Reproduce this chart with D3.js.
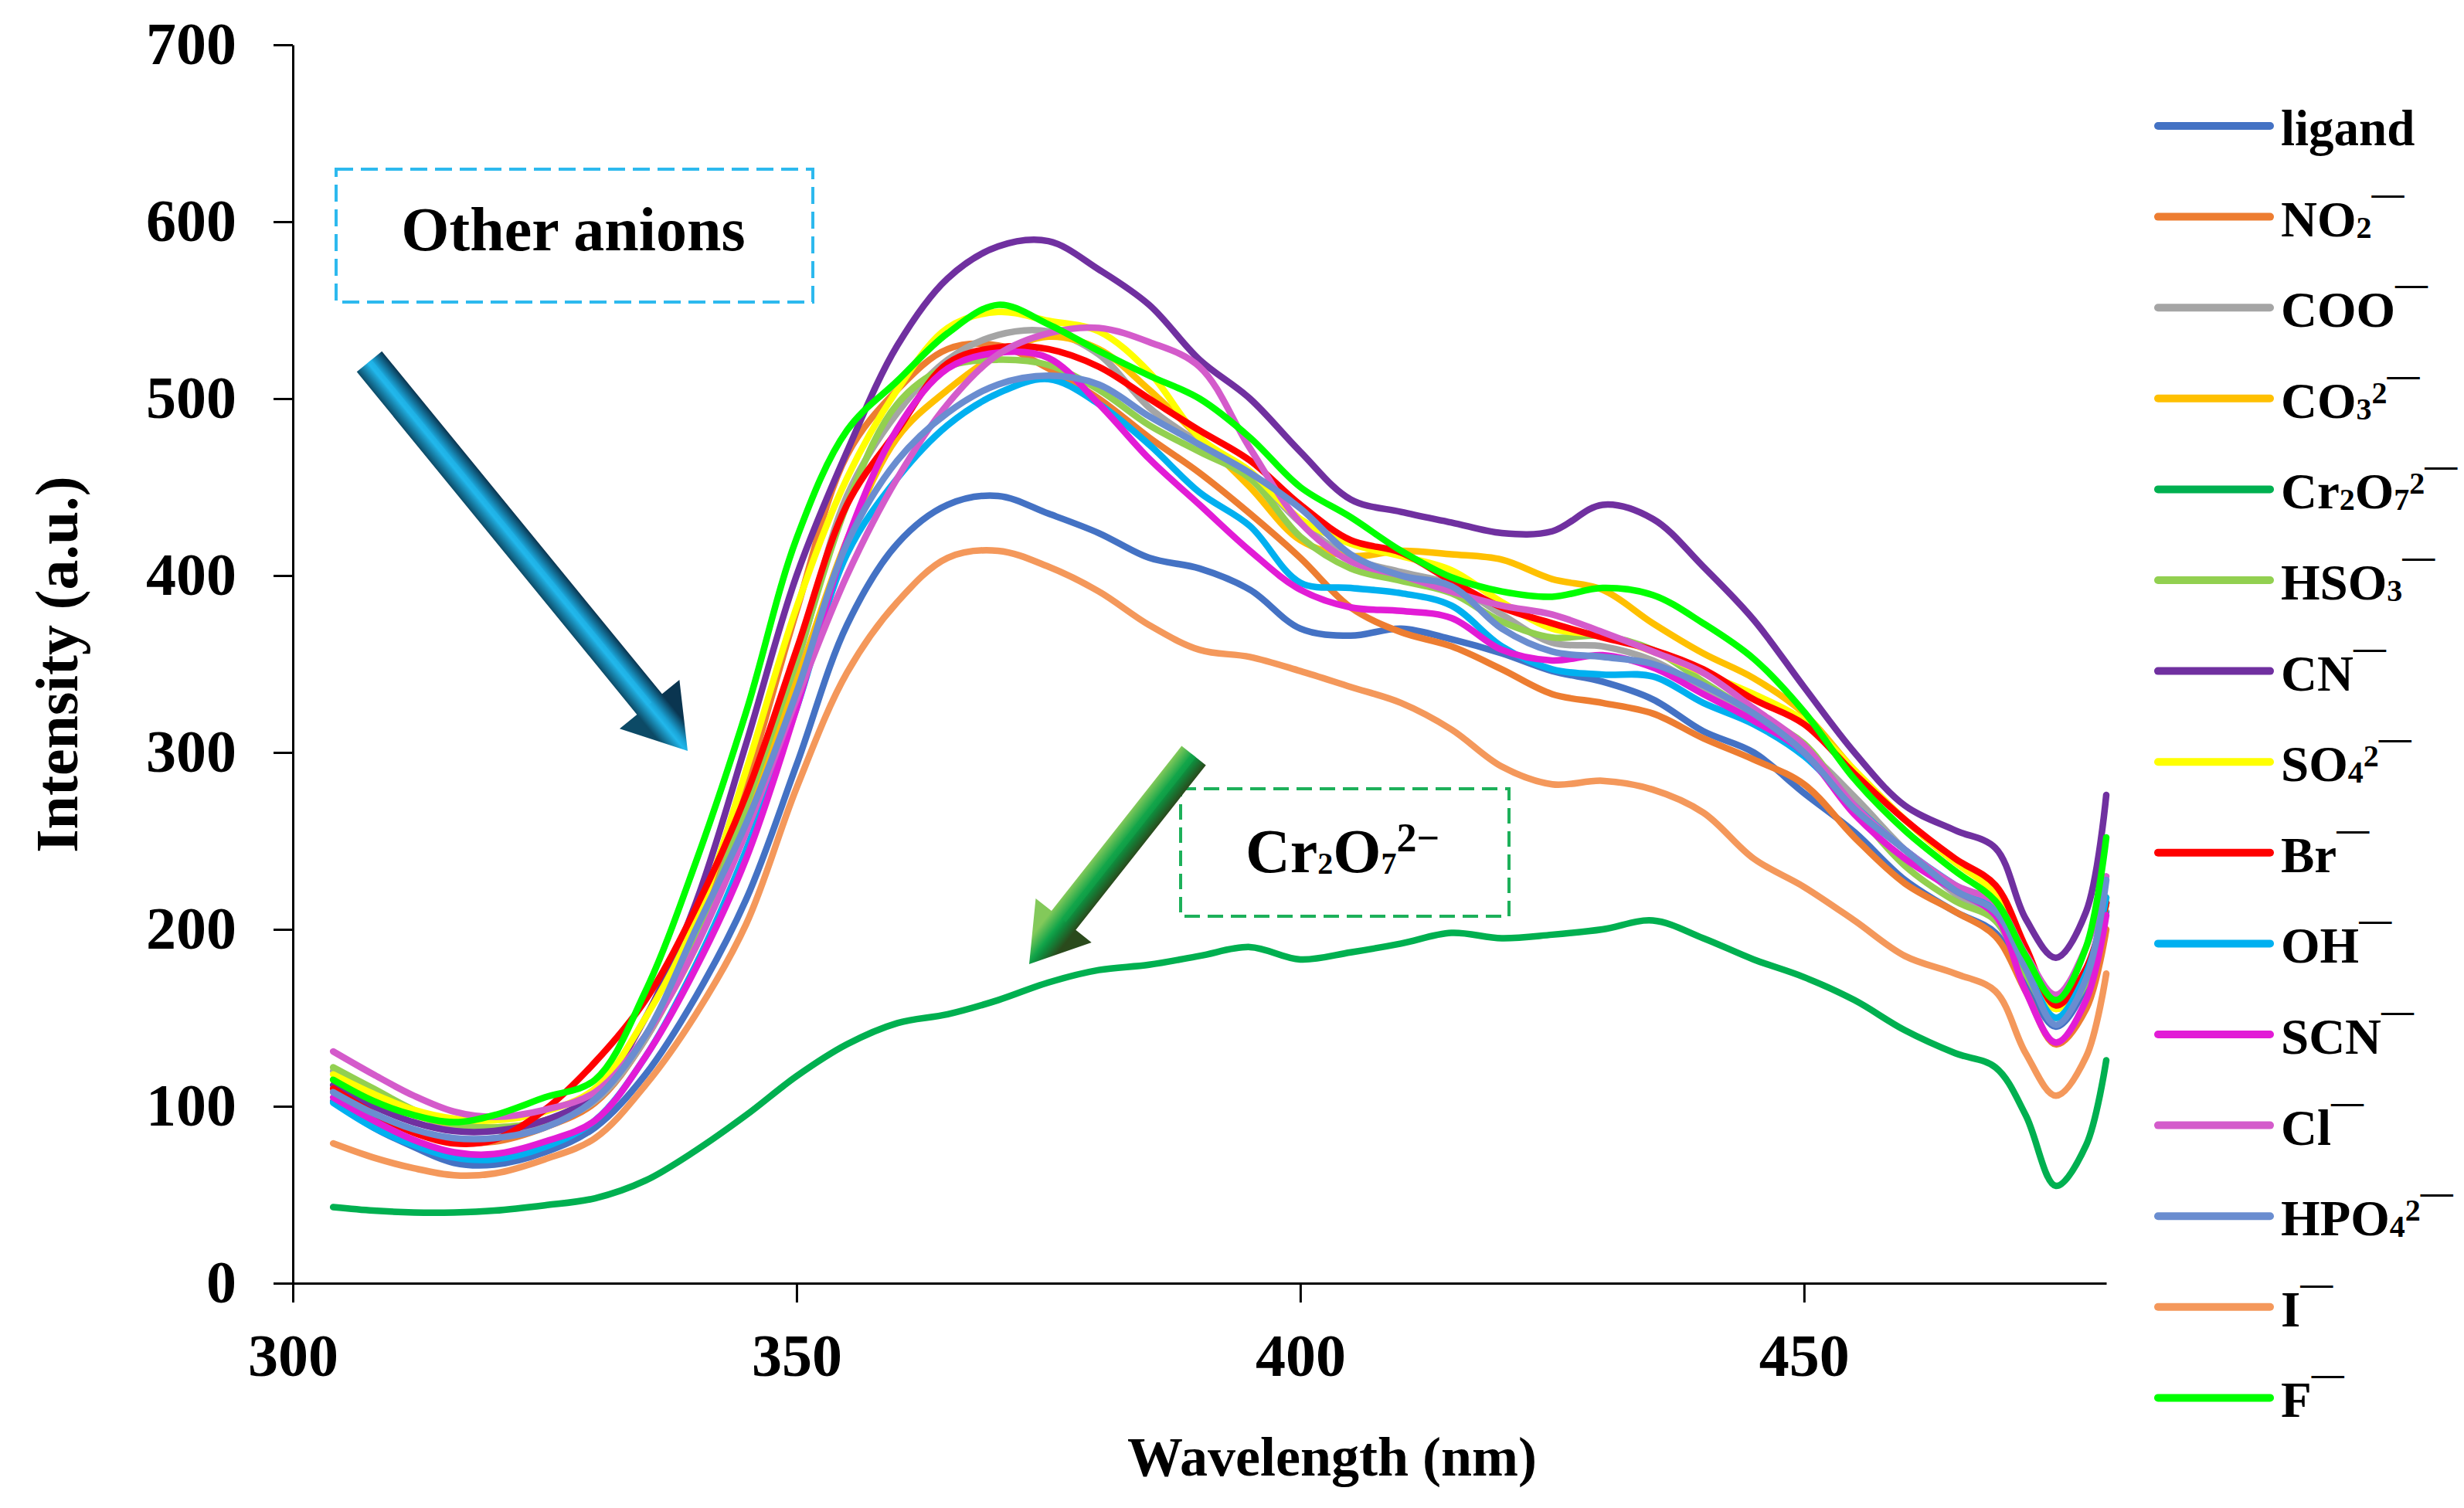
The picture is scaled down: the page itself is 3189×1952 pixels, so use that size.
<!DOCTYPE html>
<html><head><meta charset="utf-8">
<script src="https://cdn.jsdelivr.net/npm/d3@7"></script>
<style>
body{margin:0;background:#fff}
svg{display:block}
text{font-family:"Liberation Serif","Times New Roman",serif;font-weight:bold;fill:#000}
</style>
</head><body>
<svg id="chart" width="3189" height="1952"></svg>
<script>
// ---------- data ----------
const wavelengths=[304,308,312,316,320,325,330,335,340,345,350,355,360,365,370,375,380,385,390,395,400,405,410,415,420,425,430,435,440,445,450,455,460,465,469,472,475,478,480];
const ligand=[103,88,77,68,67,74,88,118,162,217,293,372,418,440,445,435,424,410,404,392,370,366,370,364,356,346,340,330,312,300,277,255,228,210,198,170,145,168,210];
const no2=[108,95,86,80,80,88,102,138,195,282,380,468,505,528,530,517,500,478,458,435,410,382,368,360,347,333,328,322,308,296,282,252,226,210,196,165,135,155,200];
const coo=[120,108,96,88,86,90,103,138,195,270,350,445,492,522,536,538,525,495,475,458,430,410,402,395,378,362,360,352,336,318,302,275,245,220,205,175,150,170,215];
const co3=[115,104,95,90,88,92,105,140,190,262,340,420,478,505,525,535,528,505,478,450,420,411,414,412,409,398,392,373,356,342,322,290,262,238,222,185,155,175,215];
const cr2o7=[43,41,40,40,41,44,48,58,75,95,117,135,147,152,160,170,177,180,185,190,183,187,192,198,195,197,200,205,195,183,173,160,143,130,122,95,55,78,126];
const hso3=[122,110,98,90,88,92,105,140,195,270,352,440,497,518,522,519,505,485,470,455,422,404,397,390,374,365,366,358,340,322,305,268,236,216,205,175,150,170,215];
const cn=[112,100,91,86,86,92,107,150,215,305,400,470,530,568,586,589,573,553,522,500,470,443,436,430,424,425,440,432,405,375,337,300,270,256,246,206,184,210,276];
const so4=[118,107,98,93,92,97,110,150,205,290,382,455,505,540,549,544,538,515,478,459,432,418,411,403,385,370,366,357,345,333,318,290,262,238,220,185,155,175,218];
const br=[110,96,85,79,81,98,125,160,212,276,358,440,482,520,529,528,518,500,482,465,440,420,413,397,382,373,365,358,347,330,316,288,262,240,225,190,157,178,215];
const oh=[102,88,78,71,70,77,92,128,180,245,325,412,455,485,503,511,497,474,447,428,396,393,390,383,360,347,344,343,328,316,298,270,245,225,212,178,150,175,218];
const scn=[105,92,81,74,73,80,92,128,178,240,325,420,483,517,526,523,497,466,440,414,392,382,380,376,358,352,355,348,333,318,300,265,240,222,208,165,136,160,208];
const cl=[131,118,106,97,94,98,108,140,190,255,330,400,455,497,525,537,540,532,518,472,430,408,400,391,383,378,368,357,345,325,304,270,245,225,215,186,163,190,230];
const hpo4=[108,96,87,82,82,88,104,140,200,260,334,418,465,492,508,513,508,490,474,458,438,412,400,394,370,357,354,350,338,322,300,268,245,222,210,178,146,172,228];
const iodide=[79,71,65,61,62,70,82,112,152,203,280,345,385,410,414,405,391,372,358,354,346,337,328,313,292,282,284,279,266,240,224,205,185,175,165,130,106,128,175];
const fluoride=[115,103,95,91,95,105,115,165,238,323,421,482,510,537,553,542,527,513,500,478,450,433,414,399,391,388,393,389,373,353,323,285,256,233,216,185,160,190,252];

const seriesValues=[ligand,no2,coo,co3,cr2o7,hso3,cn,so4,br,oh,scn,cl,hpo4,iodide,fluoride];
// label markup: {x}=subscript, [x]=superscript, ^=raised dash
const seriesLabels=["ligand","NO{2}^","COO^","CO{3}[2]^","Cr{2}O{7}[2]^","HSO{3}^","CN^","SO{4}[2]^","Br^","OH^","SCN^","Cl^","HPO{4}[2]^","I^","F^"];
const seriesColors=["#4472C4","#ED7D31","#A5A5A5","#FFC000","#00B050","#92D050","#7030A0","#FFFF00","#FF0000","#00B0F0","#E21CD6","#D45BCB","#6A8DD0","#F4985B","#00FF00"];
const yTicks=[0,100,200,300,400,500,600,700];
const xTicks=[300,350,400,450];
const xTitle="Wavelength (nm)";
const yTitle="Intensity (a.u.)";

// ---------- layout ----------
const svg=d3.select("#chart");
const plot={left:379,right:2726,top:58,bottom:1661};
const x=d3.scaleLinear().domain([300,480]).range([plot.left,plot.right]);
const y=d3.scaleLinear().domain([0,700]).range([plot.bottom,plot.top]);

svg.append("rect").attr("width",3189).attr("height",1952).attr("fill","#fff");

// parse label markup into parts
function parseLabel(s){
  const parts=[];let i=0,buf="";
  const flush=()=>{if(buf){parts.push({t:buf,k:"n"});buf="";}};
  while(i<s.length){
    const c=s[i];
    if(c==="{"){flush();const j=s.indexOf("}",i);parts.push({t:s.slice(i+1,j),k:"sub"});i=j+1;}
    else if(c==="["){flush();const j=s.indexOf("]",i);parts.push({t:s.slice(i+1,j),k:"sup"});i=j+1;}
    else if(c==="^"){flush();parts.push({t:"\u2014",k:"dash"});i++;}
    else{buf+=c;i++;}
  }
  flush();return parts;
}
function writeRich(textSel,parts,style){
  let cur=0;
  parts.forEach(p=>{
    const st=style[p.k];
    textSel.append("tspan").attr("font-size",st.size).attr("dy",st.off-cur).text(p.t);
    cur=st.off;
  });
}

// ---------- annotation boxes ----------
svg.append("rect").attr("x",435).attr("y",219).attr("width",617).attr("height",172)
  .attr("fill","none").attr("stroke","#2DB9EE").attr("stroke-width",4).attr("stroke-dasharray","22,10");
svg.append("text").attr("x",742).attr("y",324).attr("text-anchor","middle").attr("font-size",80).text("Other anions");

svg.append("rect").attr("x",1528).attr("y",1021).attr("width",425).attr("height",165)
  .attr("fill","none").attr("stroke","#1DB05A").attr("stroke-width",4).attr("stroke-dasharray","20,10");
const ann=svg.append("text").attr("x",1612).attr("y",1129).attr("font-size",80);
writeRich(ann,[{t:"Cr",k:"n"},{t:"2",k:"sub"},{t:"O",k:"n"},{t:"7",k:"sub"},{t:"2\u2212",k:"sup"}],
  {n:{size:80,off:0},sub:{size:40,off:2},sup:{size:52,off:-27}});

// ---------- arrows ----------
const defs=svg.append("defs");
function arrow(id,tail,tip,shaftW,headW,headL,stops){
  const dx=tip[0]-tail[0],dy=tip[1]-tail[1],L=Math.hypot(dx,dy);
  const ux=dx/L,uy=dy/L,nx=-uy,ny=ux;
  const bx=tip[0]-ux*headL,by=tip[1]-uy*headL;
  const pts=[
    [tail[0]+nx*shaftW/2,tail[1]+ny*shaftW/2],
    [bx+nx*shaftW/2,by+ny*shaftW/2],
    [bx+nx*headW/2,by+ny*headW/2],
    tip,
    [bx-nx*headW/2,by-ny*headW/2],
    [bx-nx*shaftW/2,by-ny*shaftW/2],
    [tail[0]-nx*shaftW/2,tail[1]-ny*shaftW/2]
  ];
  const g=defs.append("linearGradient").attr("id",id).attr("gradientUnits","userSpaceOnUse")
    .attr("x1",tail[0]+nx*shaftW/2).attr("y1",tail[1]+ny*shaftW/2)
    .attr("x2",tail[0]-nx*shaftW/2).attr("y2",tail[1]-ny*shaftW/2);
  stops.forEach(s=>g.append("stop").attr("offset",s[0]).attr("stop-color",s[1]));
  svg.append("polygon").attr("points",pts.map(p=>p.join(",")).join(" ")).attr("fill",`url(#${id})`);
  svg.append("line").attr("x1",tail[0]).attr("y1",tail[1]).attr("x2",bx).attr("y2",by)
    .attr("stroke",stops[1][1]).attr("stroke-width",shaftW*0.18).attr("opacity",0.6);
}
arrow("gBlue",[478,468],[890,972],42,100,78,[[0,"#0c4a66"],[0.45,"#22b8ec"],[0.6,"#1aa3d6"],[1,"#0a3550"]]);
arrow("gGreen",[1545,978],[1332,1248],40,92,72,[[0,"#83c95a"],[0.45,"#12a54a"],[0.6,"#0e8e3e"],[1,"#2a4a1c"]]);

// ---------- series ----------
const line=d3.line().x((d,i)=>x(wavelengths[i])).y(d=>y(d)).curve(d3.curveCatmullRom.alpha(0.5));
const gLines=svg.append("g");
seriesValues.forEach((vals,k)=>{
  gLines.append("path").datum(vals).attr("d",line).attr("fill","none")
    .attr("stroke",seriesColors[k]).attr("stroke-width",8.5)
    .attr("stroke-linejoin","round").attr("stroke-linecap","round");
});

// ---------- axes ----------
const yAxis=svg.append("g").attr("transform",`translate(${plot.left},0)`)
  .call(d3.axisLeft(y).tickValues(yTicks).tickSize(25).tickSizeOuter(0).tickPadding(48).tickFormat(d3.format("d")));
const xAxis=svg.append("g").attr("transform",`translate(0,${plot.bottom})`)
  .call(d3.axisBottom(x).tickValues(xTicks).tickSize(25).tickSizeOuter(0).tickPadding(40).tickFormat(d3.format("d")));
[yAxis,xAxis].forEach(a=>{
  a.attr("font-family",null).attr("font-size",null);
  a.selectAll("path,line").attr("stroke","#000").attr("stroke-width",3);
  a.selectAll("text").attr("font-size",78).attr("fill","#000");
});

svg.append("text").attr("x",1724).attr("y",1910).attr("text-anchor","middle").attr("font-size",72).text(xTitle);
svg.append("text").attr("transform","translate(100,860) rotate(-90)").attr("text-anchor","middle").attr("font-size",78).text(yTitle);

// ---------- legend ----------
const legend=svg.append("g");
seriesLabels.forEach((lab,k)=>{
  const ly=163+k*117.6;
  legend.append("line").attr("x1",2793).attr("x2",2938).attr("y1",ly).attr("y2",ly)
    .attr("stroke",seriesColors[k]).attr("stroke-width",10).attr("stroke-linecap","round");
  const t=legend.append("text").attr("x",2952).attr("y",ly+25).attr("font-size",65);
  writeRich(t,parseLabel(lab),{n:{size:65,off:0},sub:{size:40,off:2},sup:{size:40,off:-19},dash:{size:42,off:-42}});
});
</script>
</body></html>
